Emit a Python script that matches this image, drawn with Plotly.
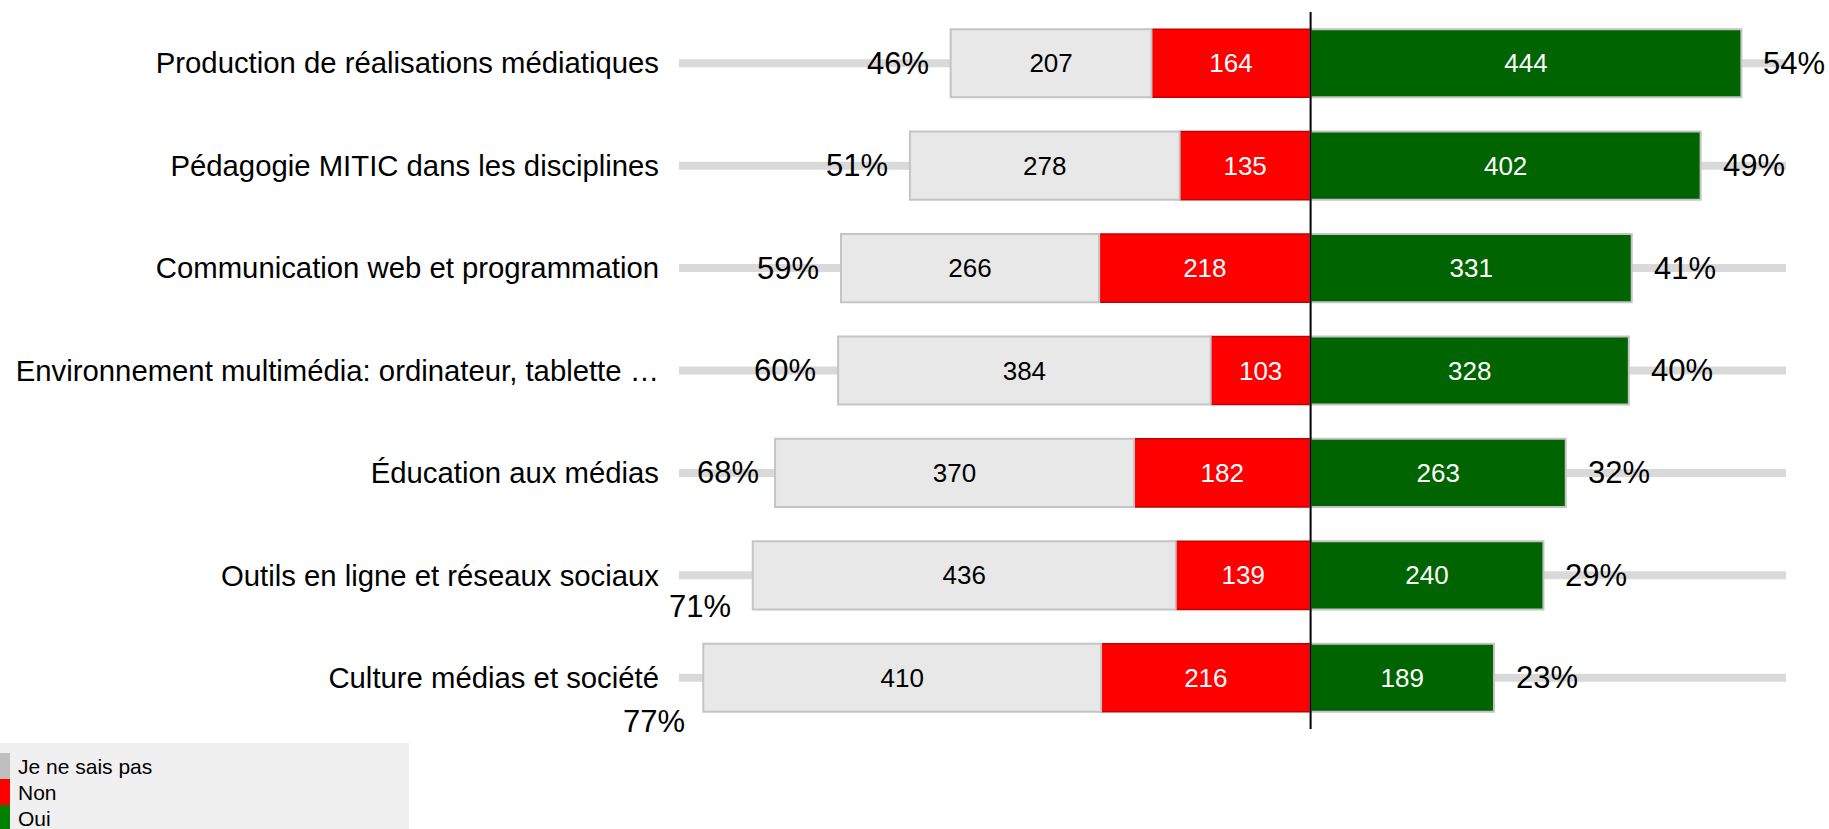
import plotly.graph_objects as go

categories = [
    "Production de réalisations médiatiques",
    "Pédagogie MITIC dans les disciplines",
    "Communication web et programmation",
    "Environnement multimédia: ordinateur, tablette …",
    "Éducation aux médias",
    "Outils en ligne et réseaux sociaux",
    "Culture médias et société",
]
je_ne_sais_pas = [207, 278, 266, 384, 370, 436, 410]
non = [164, 135, 218, 103, 182, 139, 216]
oui = [444, 402, 331, 328, 263, 240, 189]
left_pct = ["46%", "51%", "59%", "60%", "68%", "71%", "77%"]
right_pct = ["54%", "49%", "41%", "40%", "32%", "29%", "23%"]

W, H = 1829, 829
L, R, T, B = 679, 43, 12, 100
PW, PH = W - L - R, H - T - B
FONT = "Liberation Sans, Arial, sans-serif"

def px2x(px):
    return (px - L) / PW

def py2y(py):
    return (H - B - py) / PH

fig = go.Figure()
fig.add_trace(go.Bar(
    y=categories, x=[-v for v in non], orientation="h", name="Non",
    marker=dict(color="#ff0000", line=dict(color="#c40000", width=1.5)),
    text=[str(v) for v in non], textposition="inside", insidetextanchor="middle",
    textfont=dict(size=26, color="white", family=FONT), showlegend=False,
))
fig.add_trace(go.Bar(
    y=categories, x=[-v for v in je_ne_sais_pas], orientation="h", name="Je ne sais pas",
    marker=dict(color="#e8e8e8", line=dict(color="#c4c4c4", width=2)),
    text=[str(v) for v in je_ne_sais_pas], textposition="inside", insidetextanchor="middle",
    textfont=dict(size=26, color="black", family=FONT), showlegend=False,
))
fig.add_trace(go.Bar(
    y=categories, x=oui, orientation="h", name="Oui",
    marker=dict(color="#006400", line=dict(color="#c4c4c4", width=2)),
    text=[str(v) for v in oui], textposition="inside", insidetextanchor="middle",
    textfont=dict(size=26, color="white", family=FONT), showlegend=False,
))

shapes = []
# background tracks
for c in categories:
    shapes.append(dict(type="line", xref="x domain", yref="y", x0=0, x1=1, y0=c, y1=c,
                       line=dict(color="#d9d9d9", width=8), layer="below"))
# center line
shapes.append(dict(type="line", xref="x", yref="paper", x0=0, x1=0, y0=0, y1=1,
                   line=dict(color="black", width=2), layer="above"))

annotations = []
# percentage labels (offsets in pixels)
special = {4: (-14, 0), 5: (-20, -31), 6: (-16, -44)}
for i, c in enumerate(categories):
    xs, ys = special.get(i, (-20, 0))
    annotations.append(dict(x=-(je_ne_sais_pas[i] + non[i]), y=c, xref="x", yref="y",
                            text=left_pct[i], showarrow=False, xanchor="right", yanchor="middle",
                            xshift=xs, yshift=ys, font=dict(size=31, color="black", family=FONT)))
    annotations.append(dict(x=oui[i], y=c, xref="x", yref="y",
                            text=right_pct[i], showarrow=False, xanchor="left", yanchor="middle",
                            xshift=20, font=dict(size=31, color="black", family=FONT)))

# legend (drawn manually)
shapes.append(dict(type="rect", xref="paper", yref="paper", x0=px2x(0), x1=px2x(409),
                   y0=py2y(829), y1=py2y(743), fillcolor="#f0f0f0", line=dict(width=0), layer="below"))
legend_items = [("Je ne sais pas", "#bfbfbf"), ("Non", "#ff0000"), ("Oui", "#008000")]
for k, (name, col) in enumerate(legend_items):
    top = 753 + 26 * k
    shapes.append(dict(type="rect", xref="paper", yref="paper", x0=px2x(0), x1=px2x(10),
                       y0=py2y(top + 26), y1=py2y(top), fillcolor=col, line=dict(width=0)))
    annotations.append(dict(x=px2x(16), y=py2y(top + 13), xref="paper", yref="paper",
                            text=name, showarrow=False, xanchor="left", yanchor="middle",
                            font=dict(size=21, color="black", family=FONT)))

fig.update_layout(
    width=W, height=H,
    margin=dict(l=L, r=R, t=T, b=B),
    barmode="relative", bargap=0.335,
    plot_bgcolor="white", paper_bgcolor="white",
    xaxis=dict(range=[-651, 490], showgrid=False, zeroline=False, showticklabels=False,
               showline=False, fixedrange=True),
    yaxis=dict(autorange="reversed", showgrid=False, zeroline=False, showline=False,
               tickfont=dict(size=29.3, color="black", family=FONT), ticklabelstandoff=19,
               automargin=False, fixedrange=True),
    shapes=shapes, annotations=annotations,
    font=dict(family=FONT),
    hovermode=False,
)
fig.write_html("out.html", config={"displayModeBar": False},
               post_script="document.body.style.margin='0';document.body.style.overflow='hidden';")
